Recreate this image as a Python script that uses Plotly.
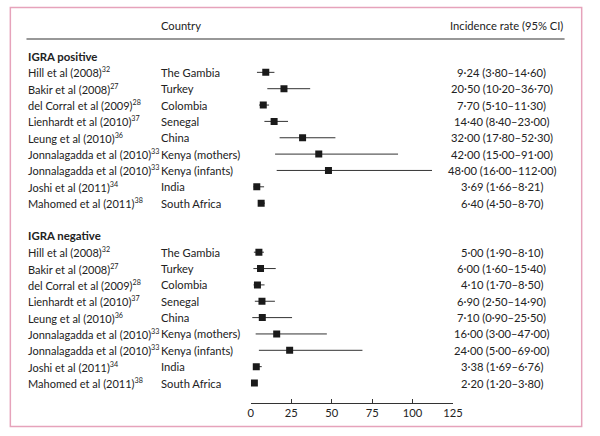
import plotly.graph_objects as go

studies = ["Hill et al (2008)", "Bakir et al (2008)", "del Corral et al (2009)",
           "Lienhardt et al (2010)", "Leung et al (2010)", "Jonnalagadda et al (2010)",
           "Jonnalagadda et al (2010)", "Joshi et al (2011)", "Mahomed et al (2011)"]
refs = ["32", "27", "28", "37", "36", "33", "33", "34", "38"]
countries = ["The Gambia", "Turkey", "Colombia", "Senegal", "China",
             "Kenya (mothers)", "Kenya (infants)", "India", "South Africa"]

pos_rate = [9.24, 20.50, 7.70, 14.40, 32.00, 42.00, 48.00, 3.69, 6.40]
pos_lo = [3.80, 10.20, 5.10, 8.40, 17.80, 15.00, 16.00, 1.66, 4.50]
pos_hi = [14.60, 36.70, 11.30, 23.00, 52.30, 91.00, 112.00, 8.21, 8.70]

neg_rate = [5.00, 6.00, 4.10, 6.90, 7.10, 16.00, 24.00, 3.38, 2.20]
neg_lo = [1.90, 1.60, 1.70, 2.50, 0.90, 3.00, 5.00, 1.69, 1.20]
neg_hi = [8.10, 15.40, 8.50, 14.90, 25.50, 47.00, 69.00, 6.76, 3.80]

groups = [("IGRA positive", pos_rate, pos_lo, pos_hi),
          ("IGRA negative", neg_rate, neg_lo, neg_hi)]
tick_vals = [0, 25, 50, 75, 100, 125]

W, H = 600, 436
FONT = "Lato"
FS = 11.2
FS_STUDY = 11.0
TXT = "#222222"
row0_px, row_step = 56, 16.35
axis_px = 403

def fmt(v):
    return f"{v:.2f}".replace(".", "·")

def txt(x_px, y, text, anchor="left", yref="y", size=FS):
    return dict(x=x_px / W, xref="paper", y=y, yref=yref, text=text,
                showarrow=False, xanchor=anchor, yanchor="middle",
                font=dict(size=size, color=TXT, family=FONT))

fig = go.Figure()
annotations = []
row = 0
for gname, rate, lo, hi in groups:
    annotations.append(txt(24, row, f"<b>{gname}</b>", size=11.4))
    rows = list(range(row + 1, row + 1 + len(rate)))
    fig.add_trace(go.Scatter(
        x=rate, y=rows, mode="markers",
        marker=dict(symbol="square", size=7, color="#1a1a1a"),
        error_x=dict(type="data", symmetric=False,
                     array=[h - r for h, r in zip(hi, rate)],
                     arrayminus=[r - l for r, l in zip(rate, lo)],
                     thickness=1, width=0, color="#333333"),
        showlegend=False, hoverinfo="skip"))
    for i, r in enumerate(rows):
        annotations.append(txt(24, r, f"{studies[i]}<sup><span style='font-size:7.2px'>{refs[i]}</span></sup>",
                               size=FS_STUDY))
        annotations.append(txt(159, r, countries[i]))
        annotations.append(txt(510, r, f"{fmt(rate[i])} ({fmt(lo[i])}–{fmt(hi[i])})", "center"))
    row += len(rate) + 2

annotations.append(txt(159, 1 - 26 / H, "Country", "left", "paper"))
annotations.append(txt(574, 1 - 26 / H, "Incidence rate (95% CI)", "right", "paper"))

shapes = [
    dict(type="line", xref="paper", yref="paper", x0=24 / W, x1=574 / W,
         y0=1 - 39 / H, y1=1 - 39 / H, line=dict(color="#333333", width=1.2)),
    dict(type="rect", xref="paper", yref="paper", x0=7.5 / W, x1=591.5 / W,
         y0=1 - 426.5 / H, y1=1 - 7.5 / H, line=dict(color="#e6a3bb", width=1.5)),
]

x0_px, x125_px = 253.3, 460
r_top = (0 - row0_px) / row_step
r_bot = (axis_px - row0_px) / row_step

fig.update_layout(
    width=W, height=H, margin=dict(l=0, r=0, t=0, b=0),
    paper_bgcolor="white", plot_bgcolor="white",
    annotations=annotations, shapes=shapes,
    xaxis=dict(domain=[x0_px / W, x125_px / W], range=[0, 125],
               tickvals=tick_vals, ticks="inside", ticklen=4, tickwidth=1,
               tickcolor="#333333", showline=True, linecolor="#333333", linewidth=1,
               showgrid=False, zeroline=False,
               tickfont=dict(size=FS, color=TXT, family=FONT)),
    yaxis=dict(domain=[1 - axis_px / H, 1], range=[r_bot, r_top],
               showticklabels=False, showgrid=False, zeroline=False, showline=False),
)

fig.write_html("out.html", config={"displayModeBar": False},
               post_script="document.body.style.margin='0';")
